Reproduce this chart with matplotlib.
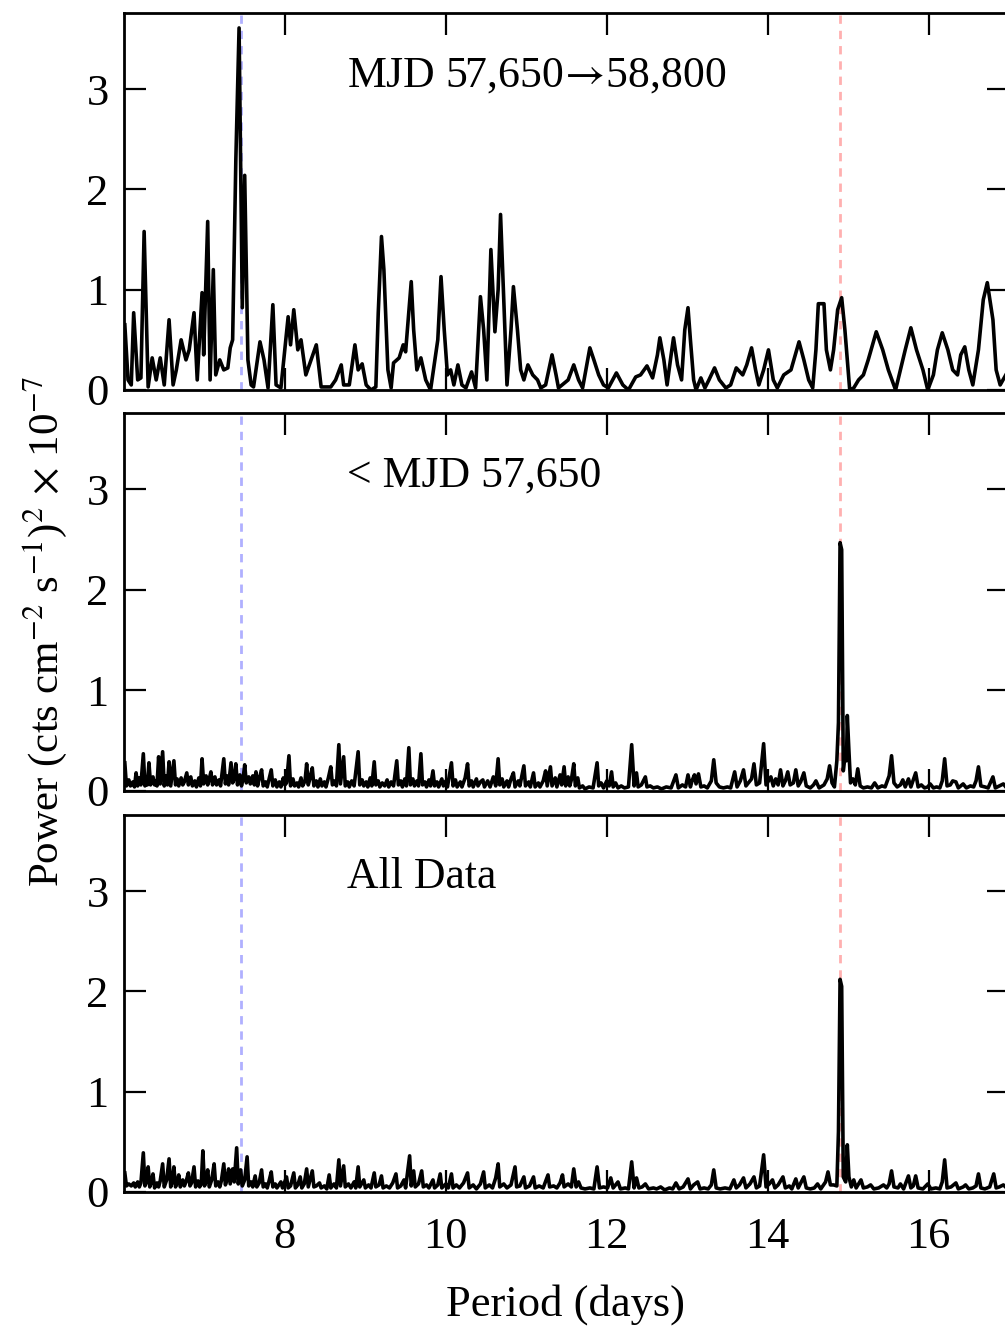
import matplotlib
matplotlib.use("Agg")
import matplotlib.pyplot as plt

plt.rcParams['font.family'] = ['Liberation Serif', 'DejaVu Serif']
plt.rcParams['mathtext.fontset'] = 'stix'

# periodogram, MJD 57,650 -> 58,800 (period in days, power x 1e-7)
recent = [
    (6.01, 0.65), (6.05, 0.10), (6.09, 0.05), (6.12, 0.77), (6.17, 0.10), (6.21, 0.12),
    (6.25, 1.58), (6.30, 0.03), (6.35, 0.32), (6.40, 0.10), (6.45, 0.32), (6.50, 0.05),
    (6.56, 0.70), (6.61, 0.05), (6.65, 0.20), (6.71, 0.50), (6.77, 0.30), (6.81, 0.40),
    (6.87, 0.77), (6.91, 0.10), (6.97, 0.97), (6.99, 0.35), (7.04, 1.68), (7.07, 0.10),
    (7.11, 1.20), (7.14, 0.15), (7.19, 0.30), (7.24, 0.20), (7.29, 0.22), (7.32, 0.42),
    (7.35, 0.50), (7.39, 2.30), (7.43, 3.61), (7.47, 0.82), (7.50, 2.14), (7.54, 0.30),
    (7.58, 0.05), (7.61, 0.03), (7.69, 0.48), (7.74, 0.30), (7.79, 0.02), (7.85, 0.85),
    (7.89, 0.05), (7.95, 0.02), (8.04, 0.73), (8.07, 0.45), (8.11, 0.80), (8.16, 0.40),
    (8.20, 0.50), (8.26, 0.15), (8.39, 0.45), (8.45, 0.03), (8.57, 0.03), (8.63, 0.10),
    (8.70, 0.25), (8.73, 0.05), (8.80, 0.05), (8.87, 0.45), (8.91, 0.20), (8.96, 0.26),
    (9.01, 0.05), (9.07, 0.00), (9.13, 0.03), (9.16, 0.77), (9.20, 1.53), (9.23, 1.20),
    (9.28, 0.20), (9.32, 0.02), (9.35, 0.27), (9.42, 0.32), (9.47, 0.45), (9.50, 0.38),
    (9.57, 1.08), (9.60, 0.60), (9.64, 0.20), (9.69, 0.32), (9.75, 0.10), (9.81, 0.00),
    (9.90, 0.50), (9.94, 1.13), (9.98, 0.60), (10.02, 0.15), (10.06, 0.20), (10.10, 0.05),
    (10.15, 0.25), (10.20, 0.05), (10.25, 0.02), (10.32, 0.18), (10.37, 0.02), (10.43, 0.93),
    (10.47, 0.60), (10.51, 0.10), (10.56, 1.40), (10.61, 0.58), (10.65, 1.00), (10.68, 1.75),
    (10.72, 0.90), (10.76, 0.05), (10.81, 0.60), (10.84, 1.03), (10.89, 0.60), (10.93, 0.20),
    (10.97, 0.10), (11.02, 0.25), (11.08, 0.15), (11.14, 0.10), (11.18, 0.02), (11.24, 0.05),
    (11.32, 0.35), (11.37, 0.15), (11.40, 0.02), (11.52, 0.10), (11.59, 0.25), (11.65, 0.10),
    (11.70, 0.02), (11.74, 0.20), (11.79, 0.42), (11.84, 0.30), (11.90, 0.15), (11.96, 0.05),
    (12.02, 0.02), (12.12, 0.17), (12.20, 0.05), (12.27, 0.00), (12.36, 0.13), (12.42, 0.15),
    (12.50, 0.24), (12.57, 0.12), (12.63, 0.35), (12.66, 0.52), (12.71, 0.30), (12.75, 0.05),
    (12.80, 0.35), (12.83, 0.52), (12.88, 0.25), (12.93, 0.10), (12.97, 0.60), (13.01, 0.82),
    (13.04, 0.50), (13.08, 0.10), (13.11, 0.00), (13.17, 0.12), (13.22, 0.02), (13.27, 0.10),
    (13.34, 0.22), (13.40, 0.10), (13.48, 0.02), (13.54, 0.05), (13.61, 0.22), (13.69, 0.15),
    (13.74, 0.25), (13.80, 0.42), (13.85, 0.20), (13.89, 0.05), (13.95, 0.20), (14.01, 0.40),
    (14.07, 0.10), (14.12, 0.02), (14.20, 0.15), (14.29, 0.20), (14.39, 0.48), (14.45, 0.30),
    (14.51, 0.10), (14.56, 0.02), (14.60, 0.40), (14.63, 0.86), (14.70, 0.86), (14.73, 0.40),
    (14.78, 0.20), (14.82, 0.40), (14.87, 0.80), (14.92, 0.92), (14.96, 0.60), (14.99, 0.30),
    (15.02, 0.00), (15.07, 0.02), (15.13, 0.10), (15.19, 0.15), (15.25, 0.30), (15.35, 0.58),
    (15.43, 0.40), (15.50, 0.20), (15.59, 0.00), (15.65, 0.20), (15.71, 0.40), (15.78, 0.62),
    (15.85, 0.40), (15.93, 0.20), (15.99, 0.00), (16.06, 0.15), (16.11, 0.40), (16.17, 0.57),
    (16.24, 0.40), (16.30, 0.20), (16.36, 0.15), (16.40, 0.35), (16.45, 0.43), (16.50, 0.20),
    (16.55, 0.05), (16.62, 0.40), (16.68, 0.90), (16.73, 1.07), (16.80, 0.70), (16.84, 0.20),
    (16.89, 0.05), (16.96, 0.15),
]

# periodogram, before MJD 57,650
early = [
    (6.01, 0.28), (6.03, 0.05), (6.06, 0.11), (6.08, 0.05), (6.11, 0.09), (6.13, 0.04),
    (6.15, 0.18), (6.17, 0.05), (6.19, 0.13), (6.21, 0.06), (6.24, 0.37), (6.26, 0.05),
    (6.28, 0.12), (6.29, 0.06), (6.31, 0.28), (6.33, 0.06), (6.36, 0.14), (6.38, 0.06),
    (6.40, 0.10), (6.41, 0.05), (6.43, 0.34), (6.45, 0.07), (6.48, 0.39), (6.50, 0.05),
    (6.52, 0.15), (6.54, 0.06), (6.56, 0.29), (6.58, 0.05), (6.62, 0.30), (6.64, 0.06),
    (6.66, 0.12), (6.68, 0.05), (6.71, 0.13), (6.73, 0.06), (6.75, 0.09), (6.78, 0.18),
    (6.80, 0.06), (6.83, 0.14), (6.85, 0.05), (6.88, 0.10), (6.90, 0.04), (6.93, 0.13),
    (6.95, 0.05), (6.97, 0.32), (6.99, 0.07), (7.02, 0.15), (7.04, 0.06), (7.06, 0.12),
    (7.08, 0.19), (7.10, 0.06), (7.13, 0.14), (7.15, 0.06), (7.18, 0.11), (7.20, 0.05),
    (7.24, 0.32), (7.26, 0.07), (7.28, 0.15), (7.30, 0.06), (7.33, 0.28), (7.35, 0.08),
    (7.37, 0.12), (7.39, 0.27), (7.41, 0.06), (7.44, 0.16), (7.46, 0.05), (7.48, 0.12),
    (7.50, 0.26), (7.52, 0.08), (7.55, 0.14), (7.57, 0.07), (7.60, 0.15), (7.62, 0.06),
    (7.64, 0.19), (7.66, 0.05), (7.68, 0.12), (7.71, 0.21), (7.73, 0.05), (7.76, 0.09),
    (7.78, 0.04), (7.81, 0.14), (7.83, 0.21), (7.85, 0.05), (7.88, 0.11), (7.90, 0.04),
    (7.93, 0.09), (7.95, 0.04), (7.98, 0.13), (8.00, 0.06), (8.02, 0.08), (8.05, 0.35),
    (8.07, 0.05), (8.10, 0.12), (8.12, 0.05), (8.15, 0.08), (8.17, 0.04), (8.20, 0.13),
    (8.22, 0.05), (8.25, 0.10), (8.27, 0.27), (8.29, 0.06), (8.31, 0.12), (8.34, 0.23),
    (8.36, 0.05), (8.39, 0.10), (8.41, 0.04), (8.44, 0.12), (8.46, 0.05), (8.49, 0.09),
    (8.51, 0.04), (8.54, 0.13), (8.57, 0.24), (8.59, 0.06), (8.62, 0.10), (8.64, 0.05),
    (8.67, 0.46), (8.69, 0.07), (8.73, 0.34), (8.75, 0.05), (8.78, 0.09), (8.80, 0.04),
    (8.83, 0.10), (8.86, 0.05), (8.91, 0.39), (8.93, 0.06), (8.96, 0.11), (8.98, 0.05),
    (9.01, 0.09), (9.03, 0.04), (9.06, 0.13), (9.08, 0.05), (9.11, 0.29), (9.13, 0.06),
    (9.16, 0.10), (9.18, 0.04), (9.21, 0.08), (9.24, 0.05), (9.27, 0.11), (9.29, 0.04),
    (9.32, 0.09), (9.35, 0.05), (9.39, 0.30), (9.41, 0.06), (9.44, 0.10), (9.46, 0.04),
    (9.49, 0.12), (9.51, 0.05), (9.54, 0.43), (9.56, 0.06), (9.59, 0.12), (9.61, 0.05),
    (9.64, 0.10), (9.66, 0.05), (9.69, 0.37), (9.71, 0.06), (9.74, 0.09), (9.76, 0.04),
    (9.79, 0.11), (9.81, 0.05), (9.84, 0.20), (9.86, 0.05), (9.89, 0.09), (9.91, 0.04),
    (9.95, 0.12), (9.97, 0.05), (10.00, 0.10), (10.02, 0.04), (10.07, 0.28), (10.09, 0.05),
    (10.12, 0.11), (10.14, 0.04), (10.18, 0.09), (10.20, 0.04), (10.24, 0.13), (10.27, 0.27),
    (10.29, 0.05), (10.32, 0.10), (10.34, 0.04), (10.38, 0.12), (10.40, 0.05), (10.43, 0.09),
    (10.46, 0.11), (10.48, 0.04), (10.52, 0.10), (10.55, 0.04), (10.59, 0.14), (10.62, 0.05),
    (10.65, 0.32), (10.67, 0.06), (10.70, 0.12), (10.72, 0.04), (10.76, 0.10), (10.78, 0.04),
    (10.81, 0.12), (10.84, 0.18), (10.86, 0.04), (10.90, 0.10), (10.92, 0.05), (10.97, 0.25),
    (10.99, 0.05), (11.03, 0.09), (11.05, 0.04), (11.09, 0.18), (11.11, 0.04), (11.15, 0.08),
    (11.17, 0.04), (11.21, 0.10), (11.24, 0.20), (11.26, 0.05), (11.30, 0.24), (11.32, 0.05),
    (11.36, 0.13), (11.38, 0.04), (11.42, 0.16), (11.44, 0.06), (11.47, 0.24), (11.49, 0.05),
    (11.52, 0.14), (11.54, 0.05), (11.56, 0.11), (11.59, 0.27), (11.61, 0.05), (11.64, 0.13),
    (11.66, 0.03), (11.70, 0.05), (11.73, 0.02), (11.78, 0.04), (11.83, 0.03), (11.88, 0.28),
    (11.90, 0.05), (11.93, 0.08), (11.96, 0.03), (12.00, 0.10), (12.03, 0.05), (12.06, 0.19),
    (12.08, 0.04), (12.11, 0.08), (12.14, 0.03), (12.18, 0.05), (12.22, 0.03), (12.27, 0.04),
    (12.31, 0.46), (12.34, 0.05), (12.37, 0.18), (12.39, 0.04), (12.43, 0.06), (12.48, 0.14),
    (12.50, 0.04), (12.54, 0.05), (12.58, 0.03), (12.63, 0.04), (12.68, 0.02), (12.74, 0.04),
    (12.80, 0.03), (12.86, 0.16), (12.89, 0.03), (12.94, 0.06), (12.98, 0.04), (13.01, 0.16),
    (13.04, 0.04), (13.06, 0.10), (13.09, 0.16), (13.11, 0.07), (13.14, 0.17), (13.17, 0.04),
    (13.21, 0.05), (13.25, 0.03), (13.30, 0.10), (13.33, 0.31), (13.36, 0.08), (13.40, 0.04),
    (13.45, 0.03), (13.50, 0.04), (13.54, 0.03), (13.59, 0.19), (13.62, 0.04), (13.66, 0.10),
    (13.70, 0.21), (13.73, 0.05), (13.77, 0.09), (13.80, 0.12), (13.83, 0.27), (13.86, 0.06),
    (13.90, 0.08), (13.95, 0.47), (13.98, 0.06), (14.01, 0.10), (14.04, 0.14), (14.07, 0.05),
    (14.10, 0.12), (14.13, 0.06), (14.16, 0.21), (14.19, 0.05), (14.22, 0.10), (14.25, 0.19),
    (14.28, 0.06), (14.32, 0.08), (14.35, 0.21), (14.38, 0.05), (14.41, 0.09), (14.45, 0.18),
    (14.48, 0.05), (14.53, 0.03), (14.57, 0.06), (14.60, 0.10), (14.64, 0.03), (14.70, 0.06),
    (14.74, 0.12), (14.77, 0.25), (14.80, 0.08), (14.83, 0.04), (14.86, 0.30), (14.88, 0.68),
    (14.90, 2.47), (14.92, 2.40), (14.94, 0.20), (14.96, 0.34), (14.98, 0.30), (14.99, 0.75),
    (15.01, 0.40), (15.03, 0.08), (15.06, 0.12), (15.09, 0.06), (15.12, 0.22), (15.15, 0.05),
    (15.19, 0.03), (15.24, 0.04), (15.29, 0.03), (15.33, 0.08), (15.37, 0.03), (15.42, 0.05),
    (15.46, 0.04), (15.51, 0.15), (15.54, 0.35), (15.57, 0.08), (15.61, 0.04), (15.65, 0.06),
    (15.68, 0.11), (15.71, 0.04), (15.75, 0.12), (15.78, 0.04), (15.84, 0.18), (15.87, 0.04),
    (15.91, 0.06), (15.95, 0.03), (15.99, 0.04), (16.02, 0.07), (16.06, 0.03), (16.10, 0.04),
    (16.14, 0.03), (16.17, 0.10), (16.20, 0.32), (16.23, 0.05), (16.27, 0.06), (16.30, 0.10),
    (16.34, 0.09), (16.37, 0.03), (16.43, 0.07), (16.47, 0.03), (16.52, 0.05), (16.56, 0.04),
    (16.59, 0.10), (16.62, 0.24), (16.65, 0.05), (16.70, 0.04), (16.74, 0.03), (16.80, 0.14),
    (16.83, 0.03), (16.88, 0.05), (16.93, 0.07), (16.97, 0.03),
]

# periodogram, all data
alldata = [
    (6.01, 0.19), (6.03, 0.06), (6.06, 0.08), (6.09, 0.06), (6.12, 0.09), (6.14, 0.05),
    (6.17, 0.10), (6.19, 0.05), (6.21, 0.09), (6.24, 0.39), (6.26, 0.06), (6.28, 0.10),
    (6.30, 0.25), (6.32, 0.05), (6.34, 0.10), (6.36, 0.18), (6.38, 0.04), (6.41, 0.09),
    (6.43, 0.05), (6.45, 0.11), (6.48, 0.28), (6.50, 0.05), (6.53, 0.12), (6.56, 0.33),
    (6.58, 0.05), (6.60, 0.10), (6.62, 0.25), (6.64, 0.05), (6.66, 0.09), (6.68, 0.17),
    (6.70, 0.05), (6.73, 0.12), (6.75, 0.06), (6.77, 0.10), (6.80, 0.19), (6.82, 0.06),
    (6.84, 0.09), (6.87, 0.25), (6.89, 0.05), (6.92, 0.11), (6.94, 0.05), (6.96, 0.08),
    (6.98, 0.41), (7.00, 0.06), (7.02, 0.10), (7.04, 0.22), (7.06, 0.05), (7.09, 0.12),
    (7.12, 0.28), (7.14, 0.06), (7.17, 0.10), (7.19, 0.05), (7.21, 0.11), (7.24, 0.28),
    (7.26, 0.07), (7.28, 0.12), (7.30, 0.23), (7.32, 0.08), (7.35, 0.23), (7.37, 0.10),
    (7.40, 0.44), (7.42, 0.08), (7.45, 0.22), (7.47, 0.06), (7.50, 0.12), (7.53, 0.35),
    (7.55, 0.06), (7.58, 0.10), (7.60, 0.05), (7.63, 0.16), (7.65, 0.05), (7.68, 0.09),
    (7.71, 0.22), (7.73, 0.05), (7.76, 0.08), (7.78, 0.04), (7.80, 0.10), (7.83, 0.20),
    (7.85, 0.05), (7.88, 0.08), (7.90, 0.04), (7.95, 0.10), (7.97, 0.04), (8.02, 0.15),
    (8.04, 0.04), (8.07, 0.06), (8.11, 0.19), (8.13, 0.04), (8.16, 0.07), (8.19, 0.15),
    (8.21, 0.04), (8.24, 0.08), (8.27, 0.23), (8.29, 0.05), (8.34, 0.21), (8.36, 0.05),
    (8.39, 0.06), (8.43, 0.09), (8.45, 0.04), (8.49, 0.06), (8.52, 0.03), (8.55, 0.17),
    (8.57, 0.04), (8.61, 0.08), (8.64, 0.04), (8.67, 0.32), (8.69, 0.06), (8.73, 0.26),
    (8.75, 0.05), (8.79, 0.08), (8.82, 0.04), (8.86, 0.10), (8.88, 0.04), (8.91, 0.25),
    (8.93, 0.05), (8.98, 0.12), (9.00, 0.04), (9.04, 0.07), (9.07, 0.04), (9.11, 0.19),
    (9.13, 0.05), (9.17, 0.07), (9.20, 0.16), (9.22, 0.04), (9.26, 0.06), (9.30, 0.04),
    (9.34, 0.09), (9.38, 0.18), (9.40, 0.04), (9.44, 0.06), (9.48, 0.12), (9.50, 0.04),
    (9.55, 0.36), (9.57, 0.06), (9.60, 0.21), (9.62, 0.05), (9.66, 0.08), (9.70, 0.21),
    (9.72, 0.05), (9.76, 0.07), (9.79, 0.04), (9.84, 0.12), (9.86, 0.04), (9.90, 0.07),
    (9.93, 0.18), (9.95, 0.04), (10.00, 0.08), (10.03, 0.04), (10.07, 0.18), (10.09, 0.04),
    (10.13, 0.07), (10.17, 0.04), (10.22, 0.09), (10.27, 0.19), (10.29, 0.04), (10.34, 0.07),
    (10.38, 0.03), (10.43, 0.08), (10.47, 0.20), (10.49, 0.04), (10.54, 0.07), (10.58, 0.04),
    (10.62, 0.14), (10.65, 0.28), (10.67, 0.05), (10.72, 0.08), (10.76, 0.04), (10.81, 0.07),
    (10.86, 0.25), (10.88, 0.05), (10.92, 0.06), (10.97, 0.15), (10.99, 0.04), (11.04, 0.06),
    (11.09, 0.15), (11.11, 0.04), (11.16, 0.06), (11.21, 0.04), (11.27, 0.17), (11.29, 0.05),
    (11.34, 0.06), (11.38, 0.04), (11.42, 0.09), (11.45, 0.17), (11.47, 0.05), (11.52, 0.08),
    (11.56, 0.05), (11.59, 0.23), (11.62, 0.05), (11.65, 0.10), (11.68, 0.04), (11.73, 0.03),
    (11.79, 0.04), (11.84, 0.03), (11.88, 0.25), (11.91, 0.04), (11.96, 0.05), (12.01, 0.04),
    (12.05, 0.14), (12.08, 0.04), (12.14, 0.10), (12.17, 0.03), (12.23, 0.04), (12.27, 0.03),
    (12.31, 0.30), (12.34, 0.04), (12.37, 0.14), (12.40, 0.04), (12.44, 0.05), (12.48, 0.08),
    (12.52, 0.03), (12.58, 0.04), (12.62, 0.03), (12.67, 0.05), (12.72, 0.02), (12.78, 0.04),
    (12.82, 0.03), (12.86, 0.09), (12.90, 0.03), (12.95, 0.05), (13.01, 0.13), (13.04, 0.03),
    (13.08, 0.07), (13.13, 0.10), (13.16, 0.03), (13.21, 0.04), (13.26, 0.03), (13.30, 0.07),
    (13.33, 0.22), (13.36, 0.04), (13.41, 0.03), (13.47, 0.04), (13.53, 0.03), (13.58, 0.12),
    (13.61, 0.04), (13.65, 0.07), (13.70, 0.14), (13.73, 0.04), (13.78, 0.08), (13.83, 0.15),
    (13.86, 0.04), (13.90, 0.06), (13.95, 0.37), (13.98, 0.05), (14.02, 0.08), (14.06, 0.12),
    (14.09, 0.04), (14.13, 0.07), (14.19, 0.15), (14.22, 0.04), (14.27, 0.06), (14.30, 0.03),
    (14.35, 0.13), (14.38, 0.04), (14.45, 0.15), (14.48, 0.04), (14.53, 0.03), (14.58, 0.04),
    (14.62, 0.08), (14.66, 0.03), (14.72, 0.10), (14.75, 0.20), (14.78, 0.07), (14.82, 0.07),
    (14.86, 0.06), (14.88, 0.60), (14.90, 2.12), (14.92, 2.05), (14.94, 0.15), (14.97, 0.10),
    (14.99, 0.47), (15.01, 0.15), (15.04, 0.05), (15.07, 0.12), (15.10, 0.04), (15.16, 0.12),
    (15.19, 0.04), (15.24, 0.05), (15.28, 0.07), (15.32, 0.03), (15.38, 0.04), (15.44, 0.07),
    (15.48, 0.04), (15.51, 0.08), (15.54, 0.21), (15.57, 0.05), (15.62, 0.04), (15.65, 0.08),
    (15.69, 0.03), (15.75, 0.16), (15.78, 0.04), (15.81, 0.06), (15.84, 0.16), (15.87, 0.04),
    (15.93, 0.03), (15.99, 0.08), (16.03, 0.03), (16.09, 0.04), (16.14, 0.03), (16.17, 0.10),
    (16.20, 0.32), (16.23, 0.04), (16.28, 0.05), (16.34, 0.09), (16.37, 0.03), (16.43, 0.05),
    (16.46, 0.07), (16.50, 0.03), (16.55, 0.04), (16.59, 0.06), (16.62, 0.18), (16.65, 0.04),
    (16.70, 0.03), (16.76, 0.05), (16.81, 0.18), (16.84, 0.04), (16.88, 0.05), (16.93, 0.07),
    (16.97, 0.04),
]

labels = [r'MJD 57,650$\!\rightarrow\!$58,800', '< MJD 57,650', 'All Data']
period_half = 7.45
period_orb = 14.90

fig = plt.figure(figsize=(10.05, 13.3), dpi=100)
# [left, bottom, width, height]; right edge runs just past the figure like the original
boxes = [[0.1234, 0.7068, 0.8806, 0.2835],
         [0.1234, 0.4053, 0.8806, 0.2842],
         [0.1234, 0.1038, 0.8806, 0.2835]]

for i, (pts, lab) in enumerate(zip([recent, early, alldata], labels)):
    ax = fig.add_axes(boxes[i])
    x, y = zip(*pts)
    ax.axvline(period_half, color='#b0b0ff', ls=(0, (3, 2.5)), lw=2.0, zorder=1)
    ax.axvline(period_orb, color='#ffb0b0', ls=(0, (3, 2.5)), lw=2.0, zorder=1)
    ax.plot(x, y, color='k', lw=2.6, zorder=2)
    ax.set_xlim(6.0, 17.0)
    ax.set_ylim(0, 3.76)
    ax.set_xticks([8, 10, 12, 14, 16])
    ax.set_yticks([0, 1, 2, 3])
    ax.tick_params(direction='in', length=16, width=1.6, top=True, right=True,
                   labelsize=32, pad=11)
    ax.tick_params(axis='x', pad=18)
    if i < 2:
        ax.tick_params(labelbottom=False)
    for s in ax.spines.values():
        s.set_linewidth(2.0)
    ax.text(8.77, 3.14, lab, fontsize=31.5, va='center', ha='left')

fig.text(0.563, 0.019, 'Period (days)', fontsize=32, ha='center', va='center')
fig.text(0.045, 0.525, r'Power (cts cm$^{-2}$ s$^{-1}$)$^{2}$ $\times$ 10$^{-7}$',
         fontsize=31, rotation=90, ha='center', va='center')

fig.savefig('out.png', dpi=100)
